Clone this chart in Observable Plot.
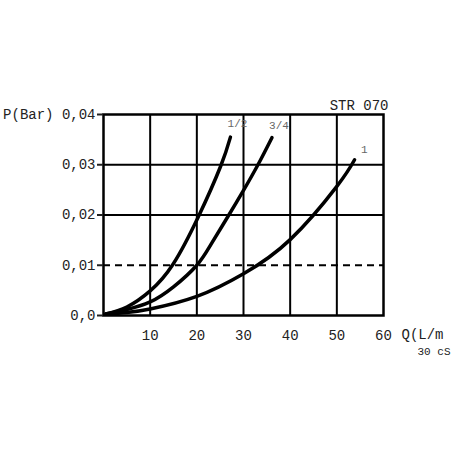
<!DOCTYPE html>
<html><head><meta charset="utf-8">
<script src="https://cdn.jsdelivr.net/npm/d3@7"></script>
<script src="https://cdn.jsdelivr.net/npm/@observablehq/plot@0.6"></script>
<style>body{margin:0;background:#fff;}</style>
</head><body><div id="chart"></div>
<script>
// Pressure drop P (bar) vs flow Q (L/min), STR 070, 30 cSt
const sizes = ["1/2", "3/4", "1"];
const qHalf = [0.5, 5, 10, 14.9, 20.3, 25.1, 27.2];
const pHalf = [0.0003, 0.0017, 0.0049, 0.0102, 0.0196, 0.0297, 0.0355];
const qThreeQuarter = [0.5, 5, 10, 15, 20, 23, 26.6, 30, 33.1, 36.1];
const pThreeQuarter = [0.0003, 0.0012, 0.0027, 0.0057, 0.01, 0.0141, 0.0196, 0.0249, 0.03, 0.0354];
const qOne = [0.5, 5, 10, 20, 30, 40, 50, 53.8];
const pOne = [0.0003, 0.0006, 0.0013, 0.0038, 0.0083, 0.0151, 0.0257, 0.031];
const labelQ = [28.7, 37.6, 55.9];
const labelP = [0.0383, 0.0378, 0.033];
const xTicks = [10, 20, 30, 40, 50, 60];
const xGrid = [10, 20, 30, 40, 50];
const yTicks = [0, 0.01, 0.02, 0.03, 0.04];
const yTickLabels = ["0,0", "0,01", "0,02", "0,03", "P(Bar) 0,04"];
const ySolidGrid = [0.02, 0.03];
const yDashedGrid = [0.01];
const title = "STR 070";
const xLabel = "Q(L/m";
const viscosity = "30 cS";

const series = [[qHalf, pHalf], [qThreeQuarter, pThreeQuarter], [qOne, pOne]];
const rows = series.flatMap(([qs, ps], i) => qs.map((q, j) => ({size: sizes[i], q, p: ps[j]})));
const labels = sizes.map((s, i) => ({size: s, q: labelQ[i], p: labelP[i]}));

const font = "'Liberation Mono', 'DejaVu Sans Mono', monospace";
const chart = Plot.plot({
  width: 452, height: 452,
  marginLeft: 103, marginRight: 69, marginTop: 114, marginBottom: 137,
  style: {fontFamily: font, fontSize: "14px", color: "#222", background: "white"},
  x: {domain: [0, 60]},
  y: {domain: [0, 0.04]},
  marks: [
    Plot.ruleX(xGrid, {stroke: "black", strokeWidth: 2}),
    Plot.ruleY(ySolidGrid, {stroke: "black", strokeWidth: 2}),
    Plot.ruleY(yDashedGrid, {stroke: "black", strokeWidth: 2, strokeDasharray: "7,5"}),
    Plot.frame({stroke: "black", strokeWidth: 2.5}),
    Plot.line(rows, {x: "q", y: "p", z: "size", curve: "natural", stroke: "black", strokeWidth: 3.5, strokeLinecap: "round"}),
    Plot.text(labels, {x: "q", y: "p", text: "size", fill: "#666", fontSize: 11, fontFamily: font}),
    Plot.axisY({ticks: yTicks, tickSize: 6, tickPadding: 2, strokeWidth: 2, label: null,
      tickFormat: d => yTickLabels[yTicks.indexOf(d)], fontSize: 14}),
    Plot.axisX({ticks: xTicks, tickSize: 0, tickPadding: 15, label: null, tickFormat: d => String(d), fontSize: 14}),
    Plot.text([title], {frameAnchor: "top-right", text: d => d, textAnchor: "end", lineAnchor: "bottom", dy: -5, dx: 5, fontSize: 14, fill: "#222"}),
    Plot.text([xLabel], {x: () => 60, y: () => 0, text: d => d, textAnchor: "start", dx: 18, dy: 19, fontSize: 14, fill: "#222"}),
    Plot.text([viscosity], {x: () => 60, y: () => 0, text: d => d, textAnchor: "start", dx: 34, dy: 36, fontSize: 11, fill: "#222"})
  ]
});
document.getElementById("chart").appendChild(chart);
</script>
</body></html>
